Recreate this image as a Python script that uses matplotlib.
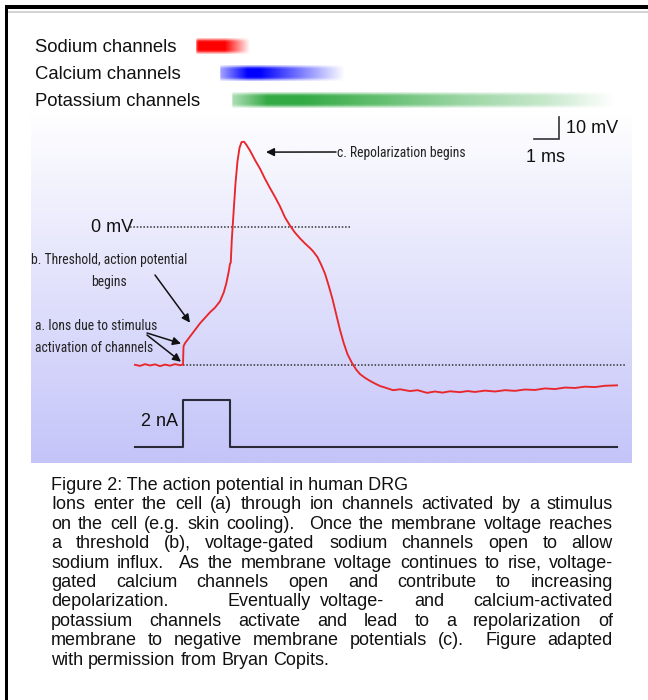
import numpy as np
import matplotlib
matplotlib.use("Agg")
import matplotlib.pyplot as plt
from matplotlib.patches import Rectangle
from matplotlib import font_manager
from matplotlib.font_manager import FontProperties

W, H = 648, 700

# Membrane potential recorded from a human DRG neuron (ms, mV)
time_ms = [0.0, 0.2, 0.4, 0.6, 0.8, 1.0, 1.2, 1.4, 1.6, 1.8, 1.92,
           1.94, 2.0, 2.2, 2.4, 2.6, 2.8, 3.0, 3.2, 3.4, 3.55, 3.65, 3.75,
           3.8, 3.83, 3.87, 3.95, 4.02, 4.1, 4.18, 4.26, 4.36, 4.45, 4.6,
           4.8, 5.0, 5.2, 5.4, 5.6, 5.8, 6.0, 6.2, 6.4, 6.6, 6.8, 7.0, 7.12,
           7.3, 7.45, 7.6, 7.75, 7.9, 8.05, 8.2, 8.35, 8.5, 8.68, 8.85, 9.0,
           9.2, 9.4, 9.6, 9.8, 10.0, 10.32, 10.6, 11.0, 11.3, 11.68, 12.0,
           12.3, 12.6, 13.0, 13.3, 13.6, 14.0, 14.4, 14.8, 15.2, 15.6, 16.0,
           16.4, 16.8, 17.2, 17.6, 18.0, 18.4, 18.8, 19.28]
voltage_mv = [-62.3, -62.8, -62.0, -62.6, -62.1, -62.9, -62.2, -62.7, -62.0, -62.5, -62.2,
              -54.0, -52.5, -49.5, -46.5, -43.5, -41.0, -38.5, -36.4, -33.5, -29.5, -25.5, -20.0,
              -16.5, -16.0, -6.0, 8.0, 20.0, 30.0, 36.0, 38.6, 38.8, 37.5, 34.8,
              30.5, 26.6, 22.0, 17.8, 13.8, 9.5, 4.5, 0.8, -2.4, -5.0, -7.3, -9.4, -10.8,
              -13.5, -17.0, -21.0, -26.5, -32.5, -39.5, -46.5, -52.5, -57.5, -61.5, -64.5, -66.5,
              -68.2, -69.6, -70.8, -71.9, -72.6, -73.8, -73.4, -74.2, -73.8, -75.0, -74.4,
              -74.9, -74.3, -74.7, -74.2, -74.6, -74.0, -74.4, -73.8, -74.1, -73.5, -73.7,
              -73.0, -73.3, -72.6, -72.8, -72.2, -72.4, -71.8, -71.6]

# Injected current step (ms, nA)
stim_time_ms = [0.0, 1.92, 1.92, 3.8, 3.8, 19.28]
stim_current_na = [0, 0, 2, 2, 0, 0]

resting_mv = -62.3
zero_line_ms = [-0.2, 8.6]
rest_line_ms = [1.92, 19.6]

# Scale bar
scale_ms = 1
scale_mv = 10
scale_corner = (16.96, 40.0)

# Activity windows of the channel families: (time in ms, relative activity)
channel_names = ["Sodium channels", "Calcium channels", "Potassium channels"]
channel_colors = [(1.0, 0.0, 0.0), (0.0, 0.0, 1.0), (0.2, 0.67, 0.27)]
sodium_t = [2.45, 2.55, 3.6, 4.6]
sodium_a = [0.7, 1.0, 1.0, 0.0]
calcium_t = [3.4, 4.5, 5.0, 8.4]
calcium_a = [0.35, 1.0, 1.0, 0.0]
potassium_t = [3.9, 5.3, 6.7, 10.0, 13.0, 16.4, 19.2]
potassium_a = [0.4, 1.0, 1.0, 0.75, 0.5, 0.28, 0.0]
channel_profiles = [(sodium_t, sodium_a), (calcium_t, calcium_a), (potassium_t, potassium_a)]

caption_title = "Figure 2: The action potential in human DRG"
caption_lines = [
    "Ions enter the cell (a) through ion channels activated by a stimulus",
    "on the cell (e.g. skin cooling).  Once the membrane voltage reaches",
    "a threshold (b), voltage-gated sodium channels open to allow",
    "sodium influx.  As the membrane voltage continues to rise, voltage-",
    "gated calcium channels open and contribute to increasing",
    "depolarization.      Eventually voltage-   and   calcium-activated",
    "potassium channels activate and lead to a repolarization of",
    "membrane to negative membrane potentials (c).  Figure adapted",
    "with permission from Bryan Copits.",
]

SANS = "Liberation Sans"


def narrow_font():
    """Pick a condensed sans-serif face for the annotation labels."""
    entries = font_manager.fontManager.ttflist
    prefs = ["Liberation Sans Narrow", "Arial Narrow", "DejaVu Sans Condensed",
             "Roboto Condensed", "Open Sans Condensed", "Noto Sans Condensed"]
    for p in prefs:
        for f in entries:
            if f.name == p and f.style == "normal" and str(f.weight) in ("400", "normal", "regular"):
                return FontProperties(fname=f.fname)
    for f in entries:
        cond = (str(f.stretch) in ("condensed", "semi-condensed", "extra-condensed", "ultra-condensed")
                or "Narrow" in f.name or "Condensed" in f.name or "Condensed" in f.fname)
        if cond and f.style == "normal" and str(f.weight) in ("400", "normal", "regular") \
                and "Mono" not in f.name and "Serif" not in f.name:
            return FontProperties(fname=f.fname)
    return FontProperties(family=SANS)


fig = plt.figure(figsize=(W / 100, H / 100), dpi=100)
fig.patch.set_facecolor("white")


def rect(x0, y0, x1, y1):
    return [x0 / W, 1 - y1 / H, (x1 - x0) / W, (y1 - y0) / H]


def ftext(x, y, s, **kw):
    return fig.text(x / W, 1 - y / H, s, **kw)


def point(x, y):
    return (x / W, 1 - y / H)


# Page frame
fig.add_artist(Rectangle((4.5 / W, 1 - 700 / H), 3 / W, 694.5 / H, transform=fig.transFigure,
                         facecolor="black", edgecolor="none"))
fig.add_artist(Rectangle((4.5 / W, 1 - 8.5 / H), 643.5 / W, 3 / H, transform=fig.transFigure,
                         facecolor="black", edgecolor="none"))
fig.add_artist(Rectangle((7.5 / W, 1 - 13 / H), 640.5 / W, 2.2 / H, transform=fig.transFigure,
                         facecolor="#d4d4d4", edgecolor="none"))

XLIM = (-4.16, 19.88)

# Channel activity bars
axb = fig.add_axes(rect(31, 32.5, 632, 113.5))
axb.set_xlim(*XLIM)
axb.set_ylim(3, 0)
axb.axis("off")
tgrid = np.linspace(XLIM[0], XLIM[1], 1200)
for i, ((pt, pa), col) in enumerate(zip(channel_profiles, channel_colors)):
    alpha = np.interp(tgrid, pt, pa, left=0, right=0)
    rows = np.array([0.25, 0.75, 1, 1, 1, 1, 1, 1, 0.75, 0.25])
    img = np.zeros((len(rows), len(tgrid), 4))
    img[..., 0], img[..., 1], img[..., 2] = col
    img[..., 3] = rows[:, None] * alpha[None, :]
    axb.imshow(img, extent=(XLIM[0], XLIM[1], i + 0.78, i + 0.22), aspect="auto",
               interpolation="bilinear")
    ftext(35, 52 + 27 * i, channel_names[i], fontsize=13.3, family=SANS, va="baseline",
          color="#111111")

# Voltage trace panel
ax = fig.add_axes(rect(31, 110, 632, 463))
ax.set_xlim(*XLIM)
ax.set_ylim(-106.8, 53.18)
ax.axis("off")
top = np.array([1.0, 1.0, 1.0])
bottom = np.array([196, 196, 249]) / 255
frac = np.linspace(0, 1, 256)[:, None]
grad = top[None, :] * (1 - frac) + bottom[None, :] * frac
ax.imshow(grad[:, None, :], extent=(XLIM[0], XLIM[1], -106.8, 53.18), aspect="auto",
          zorder=0, interpolation="bilinear")

ax.plot(zero_line_ms, [0, 0], color="#333333", lw=1.1, ls=(0, (1, 1.2)), zorder=2)
ax.plot(rest_line_ms, [resting_mv, resting_mv], color="#333333", lw=1.1, ls=(0, (1, 1.2)),
        zorder=2)
ax.plot(time_ms, voltage_mv, color="#e8262b", lw=1.35, zorder=3)

sx, sy = scale_corner
ax.plot([sx - scale_ms, sx, sx], [sy, sy, sy + scale_mv], color="#333333", lw=1.2,
        solid_joinstyle="miter")

# Current step panel
ax2 = fig.add_axes(rect(31, 110, 632, 463))
ax2.set_xlim(*XLIM)
ax2.set_ylim(-0.681, 14.30)
ax2.axis("off")
ax2.patch.set_alpha(0)
ax2.plot(stim_time_ms, stim_current_na, color="#2a2a38", lw=1.5)

# Labels
ftext(133, 232, "0 mV", fontsize=13, family=SANS, ha="right", va="baseline", color="#111111")
ftext(178, 426, "2 nA", fontsize=13, family=SANS, ha="right", va="baseline", color="#111111")
ftext(566, 133, "10 mV", fontsize=13, family=SANS, ha="left", va="baseline", color="#111111")
ftext(546, 162, "1 ms", fontsize=13, family=SANS, ha="center", va="baseline", color="#111111")

fig.canvas.draw()
renderer = fig.canvas.get_renderer()

# Size the condensed annotation face so its lines keep their printed width
nfp = narrow_font()
nfp.set_size(10)
probe = ftext(0, 0, "c. Repolarization begins", fontproperties=nfp)
w_c = probe.get_window_extent(renderer).width
probe.remove()
probe = ftext(0, 0, "b. Threshold, action potential", fontproperties=nfp)
w_b = probe.get_window_extent(renderer).width
probe.remove()
nfp.set_size(0.5 * (10 * 131 / w_c + 10 * 154 / w_b))

nkw = dict(fontproperties=nfp, color="#222222", va="baseline")
ftext(337, 157, "c. Repolarization begins", ha="left", **nkw)
ftext(109, 264, "b. Threshold, action potential", ha="center", **nkw)
ftext(109, 286, "begins", ha="center", **nkw)
ftext(35, 330, "a. Ions due to stimulus", ha="left", **nkw)
ftext(35, 352, "activation of channels", ha="left", **nkw)

arrow = dict(arrowstyle="-|>", color="#111111", lw=1.1, mutation_scale=12, shrinkA=0, shrinkB=0)
ax2.annotate("", xy=(5.24, 34.1), xycoords=ax.transData, xytext=point(336, 152),
             textcoords="figure fraction", arrowprops=arrow)
ax2.annotate("", xy=(2.2, -43.2), xycoords=ax.transData, xytext=point(155, 275),
             textcoords="figure fraction", arrowprops=arrow)
ax2.annotate("", xy=(1.84, -52.7), xycoords=ax.transData, xytext=point(147, 333),
             textcoords="figure fraction", arrowprops=arrow)
ax2.annotate("", xy=(1.84, -60.9), xycoords=ax.transData, xytext=point(147, 335),
             textcoords="figure fraction", arrowprops=arrow)

# Caption with justified body text
CAP_LEFT, CAP_RIGHT = 51, 613
CAP_Y0, CAP_DY = 490, 19.4
ckw = dict(fontsize=13.0, family=SANS, color="#111111", va="baseline")
ftext(CAP_LEFT, CAP_Y0, caption_title, **ckw)


def width_of(s):
    t = ftext(0, 0, s, **ckw)
    w = t.get_window_extent(renderer).width
    t.remove()
    return w


space_w = width_of("x x") - width_of("xx")
for k, line in enumerate(caption_lines):
    y = CAP_Y0 + CAP_DY * (k + 1)
    tokens = line.split(" ")
    words = [tok for tok in tokens if tok]
    n_spaces = len(tokens) - 1
    widths = [width_of(wd) for wd in words]
    last = k == len(caption_lines) - 1
    if last or n_spaces == 0:
        gap = space_w
    else:
        natural = sum(widths) + n_spaces * space_w
        gap = space_w + (CAP_RIGHT - CAP_LEFT - natural) / n_spaces
    x = CAP_LEFT
    wi = 0
    for tok in tokens:
        if tok:
            ftext(x, y, tok, **ckw)
            x += widths[wi]
            wi += 1
        x += gap

fig.savefig("out.png", dpi=100)
